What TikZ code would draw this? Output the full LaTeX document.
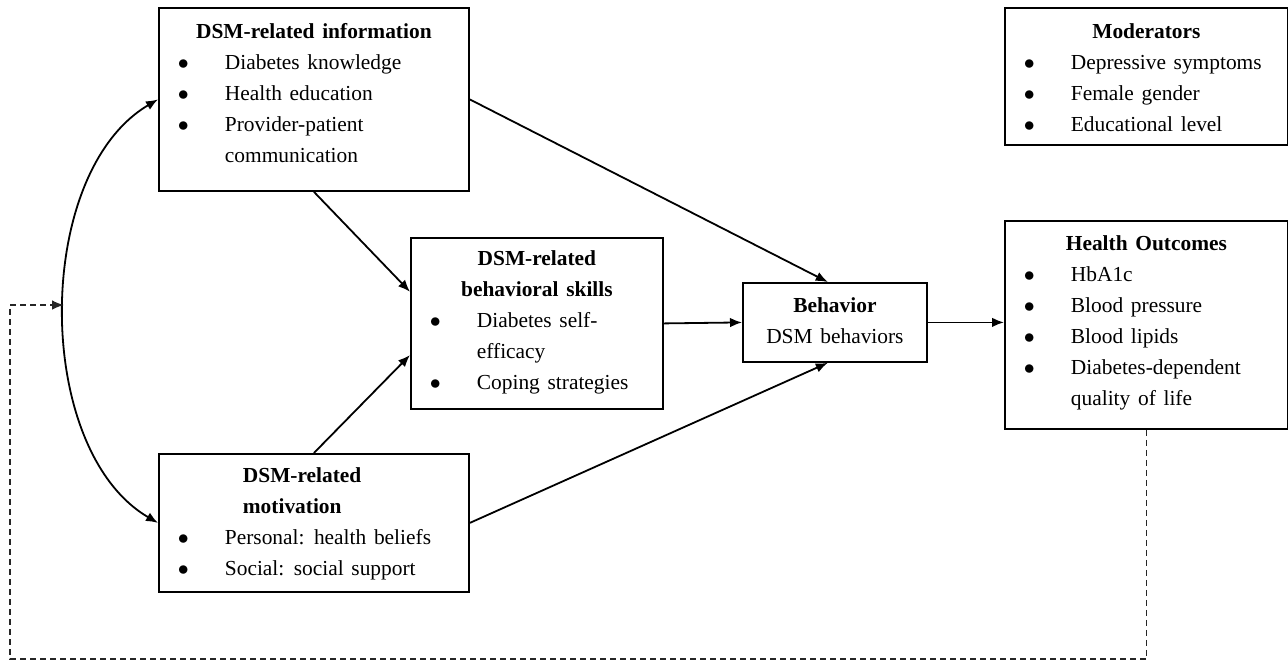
\documentclass[tikz,border=0pt]{standalone}
\usepackage{fontspec}
\setmainfont{Liberation Serif}
\usetikzlibrary{arrows.meta}
\newcommand{\schrift}{\fontsize{10.7}{15.5}\selectfont\spaceskip=0.36em plus 0.1em\relax}
\begin{document}
\begin{tikzpicture}[>={Latex[length=6pt,width=4.8pt]},line width=0.9pt,
  kasten/.style={draw,rectangle,anchor=north west,inner sep=0pt},
  inhalt/.style={anchor=north west,inner sep=0pt,align=left,font=\schrift}]
\def\h{0.5pt}
\def\punkt#1#2{({(#1)*\h},{-(#2)*\h})}
\def\pkt{\hspace*{1.5pt}\makebox[23.5pt][l]{$\bullet$}}
\def\titel#1#2{\makebox[#1][c]{\textbf{#2}}}
\useasboundingbox \punkt{0}{0} rectangle \punkt{1288}{661};

% boxes
\node[kasten,minimum width=155pt,minimum height=91.5pt] (info) at \punkt{158}{7} {};
\node[kasten,minimum width=126pt,minimum height=85.5pt] (skills) at \punkt{410}{237} {};
\node[kasten,minimum width=92pt,minimum height=39.5pt] (beh) at \punkt{742}{282} {};
\node[kasten,minimum width=155pt,minimum height=69pt] (motiv) at \punkt{158}{453} {};
\node[kasten,minimum width=141.5pt,minimum height=68.5pt] (mod) at \punkt{1004}{7} {};
\node[kasten,minimum width=141.5pt,minimum height=104pt] (health) at \punkt{1004}{220} {};

% texts
\node[inhalt] (infoT) at ([shift={(8pt,-8pt)}]info.north west)
  {\titel{139pt}{DSM-related information}\\
   \pkt Diabetes knowledge\\
   \pkt Health education\\
   \pkt Provider-patient\\
   \hspace*{25pt}communication};
\node[inhalt] (skillsT) at ([shift={(8pt,-6.5pt)}]skills.north west)
  {\titel{110pt}{DSM-related}\\
   \titel{110pt}{behavioral skills}\\
   \pkt Diabetes self-\\
   \hspace*{25pt}efficacy\\
   \pkt Coping strategies};
\node[inhalt,anchor=north,align=center] (behT) at ([yshift=-7.5pt]beh.north)
  {\textbf{Behavior}\\DSM behaviors};
\node[inhalt] (motivT) at ([shift={(8pt,-7pt)}]motiv.north west)
  {\hspace*{34pt}\textbf{DSM-related}\\
   \hspace*{34pt}\textbf{motivation}\\
   \pkt Personal: health beliefs\\
   \pkt Social: social support};
\node[inhalt] (modT) at ([shift={(8pt,-8pt)}]mod.north west)
  {\titel{125.5pt}{Moderators}\\
   \pkt Depressive symptoms\\
   \pkt Female gender\\
   \pkt Educational level};
\node[inhalt] (healthT) at ([shift={(8pt,-7.5pt)}]health.north west)
  {\titel{125.5pt}{Health Outcomes}\\
   \pkt HbA1c\\
   \pkt Blood pressure\\
   \pkt Blood lipids\\
   \pkt Diabetes-dependent\\
   \hspace*{25pt}quality of life};

% arrows
\draw[<->] (info.west) .. controls \punkt{33}{173} and \punkt{33}{450} .. (motiv.west);
\draw[->] (info.south) -- (skills.166);
\draw[->] (motiv.north) -- (skills.194);
\draw[->] (info.east) -- (beh.100);
\draw[->] (motiv.east) -- (beh.260);
\draw[->] (skills.east) -- (beh.west);
\draw[->] (beh.east) -- (beh.east -| health.west);

% feedback
\path \punkt{10}{659} coordinate (ecke);
\path \punkt{64}{305} coordinate (ziel);
\draw[->,line width=0.8pt,black!85,dash pattern=on 3pt off 2pt] (health.south) |- (ecke) |- (ziel);

\end{tikzpicture}
\end{document}
